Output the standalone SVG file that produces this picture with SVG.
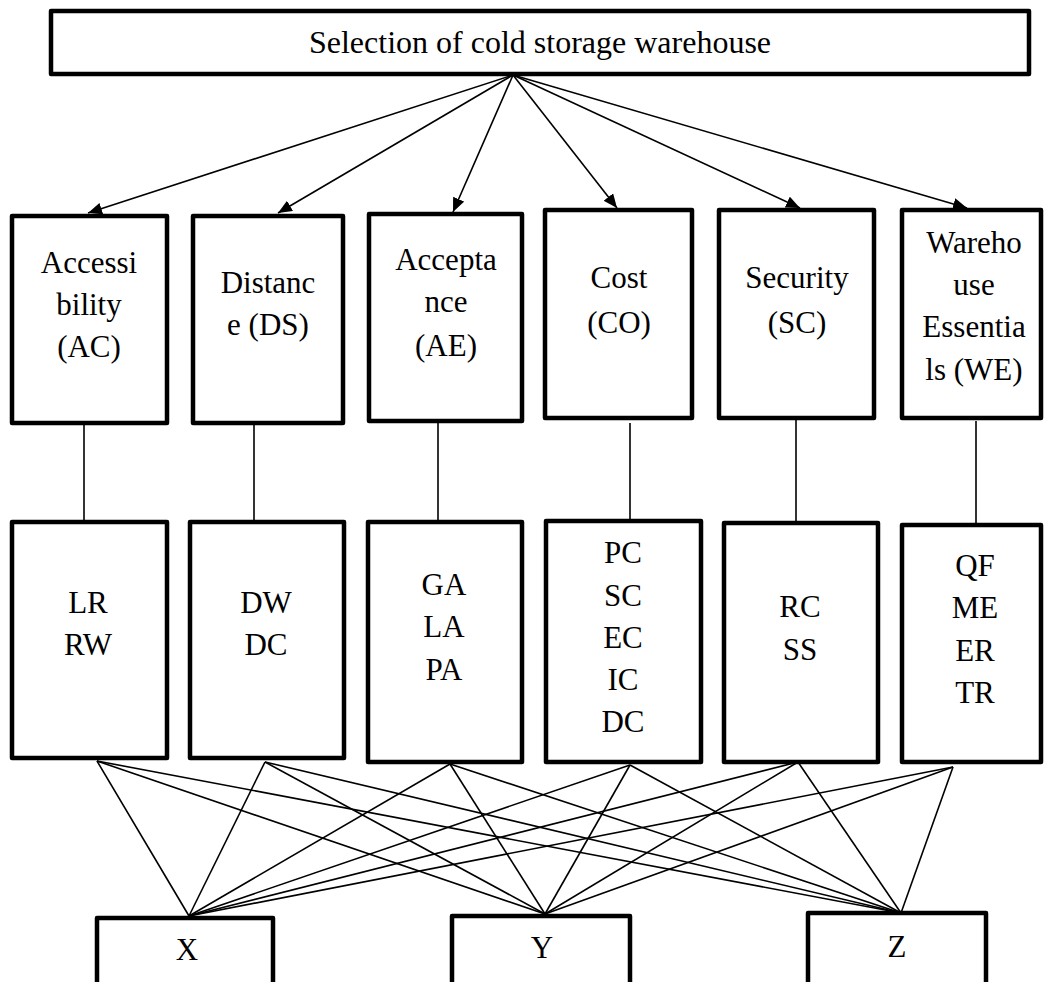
<svg xmlns="http://www.w3.org/2000/svg" width="1045" height="982" viewBox="0 0 1045 982">
<defs>
<style>
.box{fill:#fff;stroke:#000;stroke-width:4.5;stroke-linejoin:round}
.t{font-family:"Liberation Serif","Times New Roman",serif;font-size:31px;fill:#000;text-anchor:middle}
.arr{stroke:#000;stroke-width:1.6;fill:none}
.ln{stroke:#000;stroke-width:1.6;fill:none}
</style>
<marker id="ah" markerUnits="userSpaceOnUse" markerWidth="15" markerHeight="13" refX="14" refY="6" orient="auto">
<path d="M0,0 L14,6 L0,12 z" fill="#000"/>
</marker>
</defs>
<rect width="1045" height="982" fill="#fff"/>
<g id="connectors">
<line class="arr" x1="513" y1="75" x2="88" y2="213" marker-end="url(#ah)"/>
<line class="arr" x1="513" y1="75" x2="278" y2="213" marker-end="url(#ah)"/>
<line class="arr" x1="513" y1="75" x2="453" y2="212" marker-end="url(#ah)"/>
<line class="arr" x1="513" y1="75" x2="617" y2="208" marker-end="url(#ah)"/>
<line class="arr" x1="513" y1="75" x2="800" y2="208" marker-end="url(#ah)"/>
<line class="arr" x1="513" y1="75" x2="967" y2="208" marker-end="url(#ah)"/>
<line class="ln" x1="84" y1="423" x2="84" y2="522"/>
<line class="ln" x1="254" y1="423" x2="254" y2="522"/>
<line class="ln" x1="438" y1="421" x2="438" y2="522"/>
<line class="ln" x1="630" y1="423" x2="630" y2="523"/>
<line class="ln" x1="796" y1="418" x2="796" y2="523"/>
<line class="ln" x1="976" y1="421" x2="976" y2="525"/>
<g class="ln">
<line x1="97" y1="761" x2="189" y2="916"/>
<line x1="97" y1="761" x2="545" y2="914"/>
<line x1="97" y1="761" x2="901" y2="913"/>
<line x1="265" y1="762" x2="189" y2="916"/>
<line x1="265" y1="762" x2="545" y2="914"/>
<line x1="265" y1="762" x2="901" y2="913"/>
<line x1="450" y1="764" x2="189" y2="916"/>
<line x1="450" y1="764" x2="545" y2="914"/>
<line x1="450" y1="764" x2="901" y2="913"/>
<line x1="630" y1="765" x2="189" y2="916"/>
<line x1="630" y1="765" x2="545" y2="914"/>
<line x1="630" y1="765" x2="901" y2="913"/>
<line x1="798" y1="762" x2="189" y2="916"/>
<line x1="798" y1="762" x2="545" y2="914"/>
<line x1="798" y1="762" x2="901" y2="913"/>
<line x1="953" y1="767" x2="189" y2="916"/>
<line x1="953" y1="767" x2="545" y2="914"/>
<line x1="953" y1="767" x2="901" y2="913"/>
</g>
</g>
<g id="goal">
<rect class="box" x="51" y="11" width="978" height="63"/>
<text class="t" x="540" y="53" style="font-size:32px">Selection of cold storage warehouse</text>
</g>
<g id="AC">
<rect class="box" x="12" y="216" width="155" height="207"/>
<text class="t" x="89" y="273">Accessi</text>
<text class="t" x="89" y="315">bility</text>
<text class="t" x="89" y="357">(AC)</text>
</g>
<g id="DS">
<rect class="box" x="193" y="216" width="150" height="207"/>
<text class="t" x="268" y="293">Distanc</text>
<text class="t" x="268" y="335">e (DS)</text>
</g>
<g id="AE">
<rect class="box" x="369" y="214" width="153" height="207"/>
<text class="t" x="446" y="270">Accepta</text>
<text class="t" x="446" y="312">nce</text>
<text class="t" x="446" y="356">(AE)</text>
</g>
<g id="CO">
<rect class="box" x="545" y="210" width="147" height="208"/>
<text class="t" x="619" y="288">Cost</text>
<text class="t" x="619" y="333">(CO)</text>
</g>
<g id="SC">
<rect class="box" x="719" y="210" width="155" height="208"/>
<text class="t" x="797" y="288">Security</text>
<text class="t" x="797" y="333">(SC)</text>
</g>
<g id="WE">
<rect class="box" x="902" y="210" width="139" height="208"/>
<text class="t" x="974" y="253">Wareho</text>
<text class="t" x="974" y="295">use</text>
<text class="t" x="974" y="337">Essentia</text>
<text class="t" x="974" y="380">ls (WE)</text>
</g>
<g id="AC-sub">
<rect class="box" x="12" y="522" width="155" height="236"/>
<text class="t" x="88" y="613">LR</text>
<text class="t" x="88" y="655">RW</text>
</g>
<g id="DS-sub">
<rect class="box" x="190" y="522" width="154" height="236"/>
<text class="t" x="266" y="613">DW</text>
<text class="t" x="266" y="655">DC</text>
</g>
<g id="AE-sub">
<rect class="box" x="368" y="522" width="154" height="240"/>
<text class="t" x="444" y="595">GA</text>
<text class="t" x="444" y="637">LA</text>
<text class="t" x="444" y="680">PA</text>
</g>
<g id="CO-sub">
<rect class="box" x="546" y="521" width="155" height="241"/>
<text class="t" x="623" y="563">PC</text>
<text class="t" x="623" y="606">SC</text>
<text class="t" x="623" y="648">EC</text>
<text class="t" x="623" y="690">IC</text>
<text class="t" x="623" y="732">DC</text>
</g>
<g id="SC-sub">
<rect class="box" x="724" y="523" width="154" height="239"/>
<text class="t" x="800" y="617">RC</text>
<text class="t" x="800" y="660">SS</text>
</g>
<g id="WE-sub">
<rect class="box" x="902" y="525" width="139" height="237"/>
<text class="t" x="975" y="576">QF</text>
<text class="t" x="975" y="618">ME</text>
<text class="t" x="975" y="661">ER</text>
<text class="t" x="975" y="703">TR</text>
</g>
<g id="X">
<rect class="box" x="97" y="918" width="176" height="90"/>
<text class="t" x="187" y="960">X</text>
</g>
<g id="Y">
<rect class="box" x="452" y="916" width="178" height="90"/>
<text class="t" x="542" y="958">Y</text>
</g>
<g id="Z">
<rect class="box" x="808" y="913" width="178" height="90"/>
<text class="t" x="897" y="957">Z</text>
</g>
</svg>
